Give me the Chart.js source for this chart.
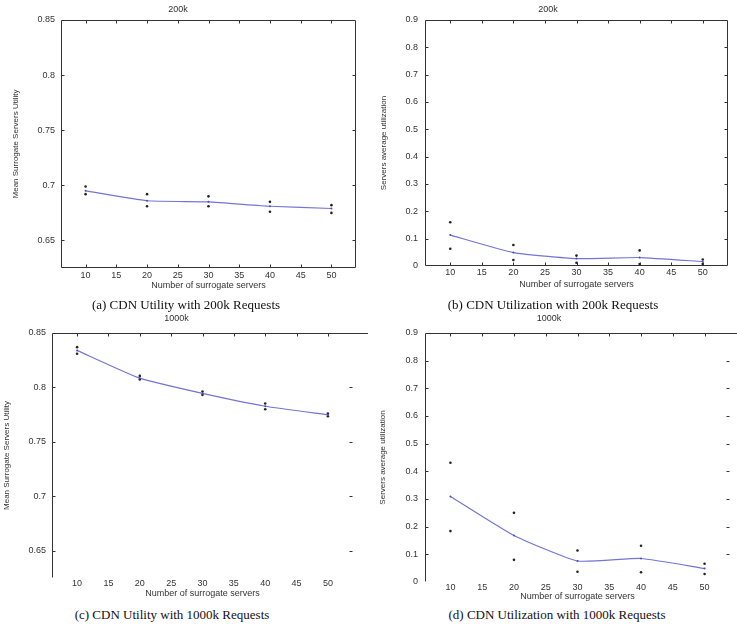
<!DOCTYPE html>
<html lang="en">
<head>
    <meta charset="UTF-8">
    <title>CDN Utility and Utilization</title>
    <script src="https://cdn.jsdelivr.net/npm/chart.js"></script>
    <style>
        body { margin: 0; background: #fff; }
        #wrap { position: relative; width: 737px; height: 626px; overflow: hidden; }
        canvas { position: absolute; }
        .cap {
            position: absolute;
            font-family: "Liberation Serif", "Times New Roman", serif;
            font-size: 13px;
            color: #111;
            white-space: nowrap;
            transform: translate(-50%, -50%);
        }
    </style>
</head>
<body>
<div id="wrap">
    <canvas id="chartA" width="368" height="292" style="left:0;top:0"></canvas>
    <canvas id="chartB" width="369" height="292" style="left:368px;top:0"></canvas>
    <canvas id="chartC" width="368" height="292" style="left:0;top:310px"></canvas>
    <canvas id="chartD" width="369" height="292" style="left:368px;top:310px"></canvas>
    <div class="cap" style="left:186px;top:305px">(a) CDN Utility with 200k Requests</div>
    <div class="cap" style="left:553px;top:305px">(b) CDN Utilization with 200k Requests</div>
    <div class="cap" style="left:172px;top:615px">(c) CDN Utility with 1000k Requests</div>
    <div class="cap" style="left:557px;top:615px">(d) CDN Utilization with 1000k Requests</div>
</div>
<script>
// number of surrogate servers
const servers = [10, 20, 30, 40, 50];
const xTicks = [10, 15, 20, 25, 30, 35, 40, 45, 50];
const utilityTicks = [0.65, 0.7, 0.75, 0.8, 0.85];
const utilizationTicks = [0, 0.1, 0.2, 0.3, 0.4, 0.5, 0.6, 0.7, 0.8, 0.9];

// (a) utility, 200k requests
const utility200kMean = [0.695, 0.686, 0.685, 0.681, 0.679];
const utility200kHigh = [0.699, 0.692, 0.690, 0.685, 0.682];
const utility200kLow  = [0.692, 0.681, 0.681, 0.676, 0.675];

// (b) utilization, 200k requests
const usage200kMean = [0.113, 0.049, 0.027, 0.031, 0.016];
const usage200kHigh = [0.160, 0.077, 0.038, 0.057, 0.024];
const usage200kLow  = [0.063, 0.022, 0.012, 0.007, 0.007];

// (c) utility, 1000k requests
const utility1000kMean = [0.834, 0.8085, 0.7945, 0.7827, 0.7748];
const utility1000kHigh = [0.837, 0.8106, 0.7962, 0.7852, 0.776];
const utility1000kLow  = [0.831, 0.8073, 0.7932, 0.780, 0.7736];

// (d) utilization, 1000k requests
const usage1000kMean = [0.309, 0.168, 0.076, 0.085, 0.049];
const usage1000kHigh = [0.431, 0.250, 0.114, 0.131, 0.066];
const usage1000kLow  = [0.184, 0.080, 0.037, 0.035, 0.029];

Chart.defaults.font.family = '"Liberation Sans", Arial, sans-serif';
Chart.defaults.font.size = 9;
Chart.defaults.color = '#444';

const pts = vals => servers.map((x, i) => ({ x: x, y: vals[i] }));

// box / inward tick marks like the original plotting tool
const framePlugin = {
    id: 'frame',
    afterDatasetsDraw(chart, args, opts) {
        const { ctx, chartArea: a, scales: { x, y } } = chart;
        const s = opts.sides;
        const L = Math.round(a.left) + 0.5, R = Math.round(a.right) - 0.5;
        const T = Math.round(a.top) + 0.5, B = Math.round(a.bottom) - 0.5;
        ctx.save();
        ctx.strokeStyle = opts.color;
        ctx.lineWidth = 1;
        ctx.beginPath();
        if (s.includes('left')) { ctx.moveTo(L, T); ctx.lineTo(L, B); }
        if (s.includes('right')) { ctx.moveTo(R, T); ctx.lineTo(R, B); }
        if (s.includes('top')) { ctx.moveTo(L, T); ctx.lineTo(opts.topEnd || R, T); }
        if (s.includes('bottom')) { ctx.moveTo(L, B); ctx.lineTo(R, B); }
        ctx.stroke();
        ctx.beginPath();
        x.ticks.forEach(t => {
            const px = Math.round(x.getPixelForValue(t.value)) + 0.5;
            if (s.includes('top')) { ctx.moveTo(px, T); ctx.lineTo(px, T + 3); }
            if (s.includes('bottom')) { ctx.moveTo(px, B); ctx.lineTo(px, B - 3); }
        });
        y.ticks.forEach(t => {
            const py = Math.round(y.getPixelForValue(t.value)) + 0.5;
            if (py < T + 1 || py > B - 1) return;
            ctx.moveTo(L, py); ctx.lineTo(L + 3, py);
            ctx.moveTo(R - 3, py); ctx.lineTo(R, py);
        });
        ctx.stroke();
        ctx.restore();
    }
};

function makeChart(id, p) {
    const ctx = document.getElementById(id).getContext('2d');
    const w = ctx.canvas.width, h = ctx.canvas.height;
    return new Chart(ctx, {
        type: 'scatter',
        data: {
            datasets: [
                {
                    type: 'line',
                    data: pts(p.mean),
                    borderColor: '#7474d6',
                    borderWidth: 1.2,
                    pointRadius: 1,
                    pointBackgroundColor: '#4a4ac0',
                    pointBorderWidth: 0,
                    tension: 0.15
                },
                { data: pts(p.high), pointRadius: 1.3, backgroundColor: '#222', borderWidth: 0 },
                { data: pts(p.low), pointRadius: 1.3, backgroundColor: '#222', borderWidth: 0 }
            ]
        },
        options: {
            responsive: false,
            animation: false,
            devicePixelRatio: 1,
            layout: { padding: { top: 0, left: 0, bottom: 0, right: w - p.plot[2] } },
            plugins: {
                legend: { display: false },
                tooltip: { enabled: false },
                title: {
                    display: true,
                    text: p.title,
                    color: '#333',
                    font: { size: 9, weight: 'normal' },
                    padding: { top: p.titleY - 5.4, bottom: p.plot[1] - p.titleY - 5.4 }
                },
                frame: { sides: p.sides, color: p.frameColor || '#333', topEnd: p.topEnd }
            },
            scales: {
                x: {
                    type: 'linear',
                    min: 6, max: 54,
                    grid: { display: false, drawTicks: false, tickLength: 0 },
                    border: { display: false },
                    afterBuildTicks: sc => { sc.ticks = xTicks.map(v => ({ value: v })); },
                    afterFit: sc => { sc.height = h - p.plot[3]; },
                    ticks: { autoSkip: false, maxRotation: 0, padding: p.xTickPad, color: '#333', callback: v => String(v) },
                    title: {
                        display: true,
                        text: 'Number of surrogate servers',
                        color: '#333',
                        font: { size: 9 },
                        padding: { top: 0, bottom: p.xTitlePad }
                    }
                },
                y: {
                    type: 'linear',
                    min: p.yMin, max: p.yMax,
                    grid: { display: false, drawTicks: false, tickLength: 0 },
                    border: { display: false },
                    afterBuildTicks: sc => { sc.ticks = p.yTicks.map(v => ({ value: v })); },
                    afterFit: sc => { sc.width = p.plot[0]; },
                    ticks: { padding: p.yTickPad, color: '#333', callback: v => String(+v.toFixed(3)) },
                    title: {
                        display: true,
                        text: p.yTitle,
                        color: '#333',
                        font: { family: '"Liberation Sans Narrow", "Liberation Sans", Arial, sans-serif', size: 8 },
                        padding: { top: p.yTitlePad, bottom: 0 }
                    }
                }
            }
        },
        plugins: [framePlugin]
    });
}

makeChart('chartA', {
    title: '200k', titleY: 10, plot: [61, 20, 356, 268],
    yMin: 0.625, yMax: 0.85, yTicks: utilityTicks,
    yTitle: 'Mean Surrogate Servers Utility',
    mean: utility200kMean, high: utility200kHigh, low: utility200kLow,
    xTickPad: 2.6, xTitlePad: 0.6, yTickPad: 6, yTitlePad: 10.6,
    sides: ['left', 'right', 'top', 'bottom']
});

makeChart('chartB', {
    title: '200k', titleY: 10, plot: [57, 20, 360, 266],
    yMin: 0, yMax: 0.9, yTicks: utilizationTicks,
    yTitle: 'Servers average utilization',
    mean: usage200kMean, high: usage200kHigh, low: usage200kLow,
    xTickPad: 1.6, xTitlePad: 1.6, yTickPad: 7, yTitlePad: 10.6,
    sides: ['left', 'right', 'top', 'bottom']
});

makeChart('chartC', {
    title: '1000k', titleY: 9, plot: [52, 23, 353, 268],
    yMin: 0.625, yMax: 0.85, yTicks: utilityTicks,
    yTitle: 'Mean Surrogate Servers Utility',
    mean: utility1000kMean, high: utility1000kHigh, low: utility1000kLow,
    xTickPad: 0.6, xTitlePad: 2.6, yTickPad: 6, yTitlePad: 1.6,
    sides: ['left', 'top', 'rightTicks'], topEnd: 368
});

makeChart('chartD', {
    title: '1000k', titleY: 9, plot: [57, 23, 362, 272],
    yMin: 0, yMax: 0.9, yTicks: utilizationTicks,
    yTitle: 'Servers average utilization',
    mean: usage1000kMean, high: usage1000kHigh, low: usage1000kLow,
    xTickPad: 0.6, xTitlePad: 0, yTickPad: 7, yTitlePad: 9.6,
    sides: ['left', 'top', 'rightTicks'], topEnd: 369
});
</script>
</body>
</html>
